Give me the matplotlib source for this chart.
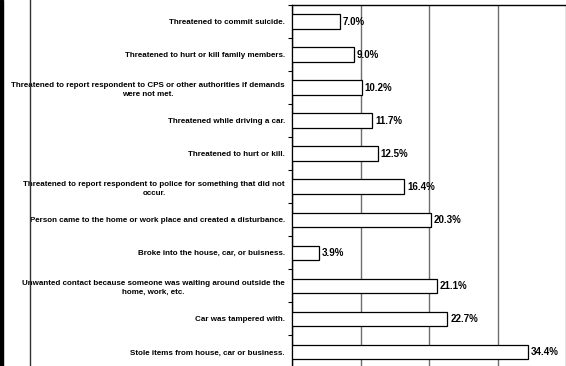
import matplotlib.pyplot as plt
from matplotlib.lines import Line2D
from matplotlib.patches import Rectangle
import numpy as np

plt.rcParams['font.family'] = ['Liberation Sans', 'DejaVu Sans']

labels = [
    'Threatened to commit suicide.',
    'Threatened to hurt or kill family members.',
    'Threatened to report respondent to CPS or other authorities if demands\nwere not met.',
    'Threatened while driving a car.',
    'Threatened to hurt or kill.',
    'Threatened to report respondent to police for something that did not\noccur.',
    'Person came to the home or work place and created a disturbance.',
    'Broke into the house, car, or buisness.',
    'Unwanted contact because someone was waiting around outside the\nhome, work, etc.',
    'Car was tampered with.',
    'Stole items from house, car or business.',
]
values = [7.0, 9.0, 10.2, 11.7, 12.5, 16.4, 20.3, 3.9, 21.1, 22.7, 34.4]

W, H = 566, 366
fig = plt.figure(figsize=(W / 100, H / 100), dpi=100)
fig.patch.set_facecolor('white')

# plot area starts at x=292px, top at 5px; bottom and right run off the page
ax = fig.add_axes([292 / W, -2.5 / H, 1 - 292 / W, 363.5 / H])

ypos = np.arange(len(values))
ax.barh(ypos, values, height=0.44, color='white', edgecolor='black',
        linewidth=0.9, zorder=3)

for y, v in zip(ypos, values):
    ax.annotate(f'{v:.1f}%', xy=(v, y), xytext=(2, 0), textcoords='offset points',
                va='center', ha='left', fontsize=7, fontweight='bold', zorder=4)

ax.set_xlim(0, 274 / 7)
ax.set_ylim(len(values) - 0.5, -0.5)
ax.set_xticks([0, 10, 20, 30, 40])
ax.set_xticklabels([])
ax.tick_params(axis='x', length=0)
ax.grid(axis='x', color='#6e6e6e', linewidth=1.0, zorder=0)

ax.set_yticks(ypos)
ax.set_yticklabels(labels, fontsize=5.8, fontweight='bold')
for t in ax.get_yticklabels():
    t.set_multialignment('center')
    t.set_linespacing(1.45)
ax.tick_params(axis='y', which='major', length=0, pad=5)
ax.set_yticks(np.arange(len(values) + 1) - 0.5, minor=True)
ax.tick_params(axis='y', which='minor', length=3, width=0.8, direction='out')

for side in ['left', 'top', 'bottom']:
    ax.spines[side].set_linewidth(1.0)
    ax.spines[side].set_color('black')
ax.spines['right'].set_visible(False)

# page border on the left
fig.add_artist(Rectangle((0, 0), 2.5 / W, 1, transform=fig.transFigure,
                         color='black', zorder=10))
fig.add_artist(Line2D([29.5 / W, 29.5 / W], [0, 1], transform=fig.transFigure,
                      color='#333333', linewidth=1.0, zorder=10))

fig.savefig('out.png', dpi=100)
